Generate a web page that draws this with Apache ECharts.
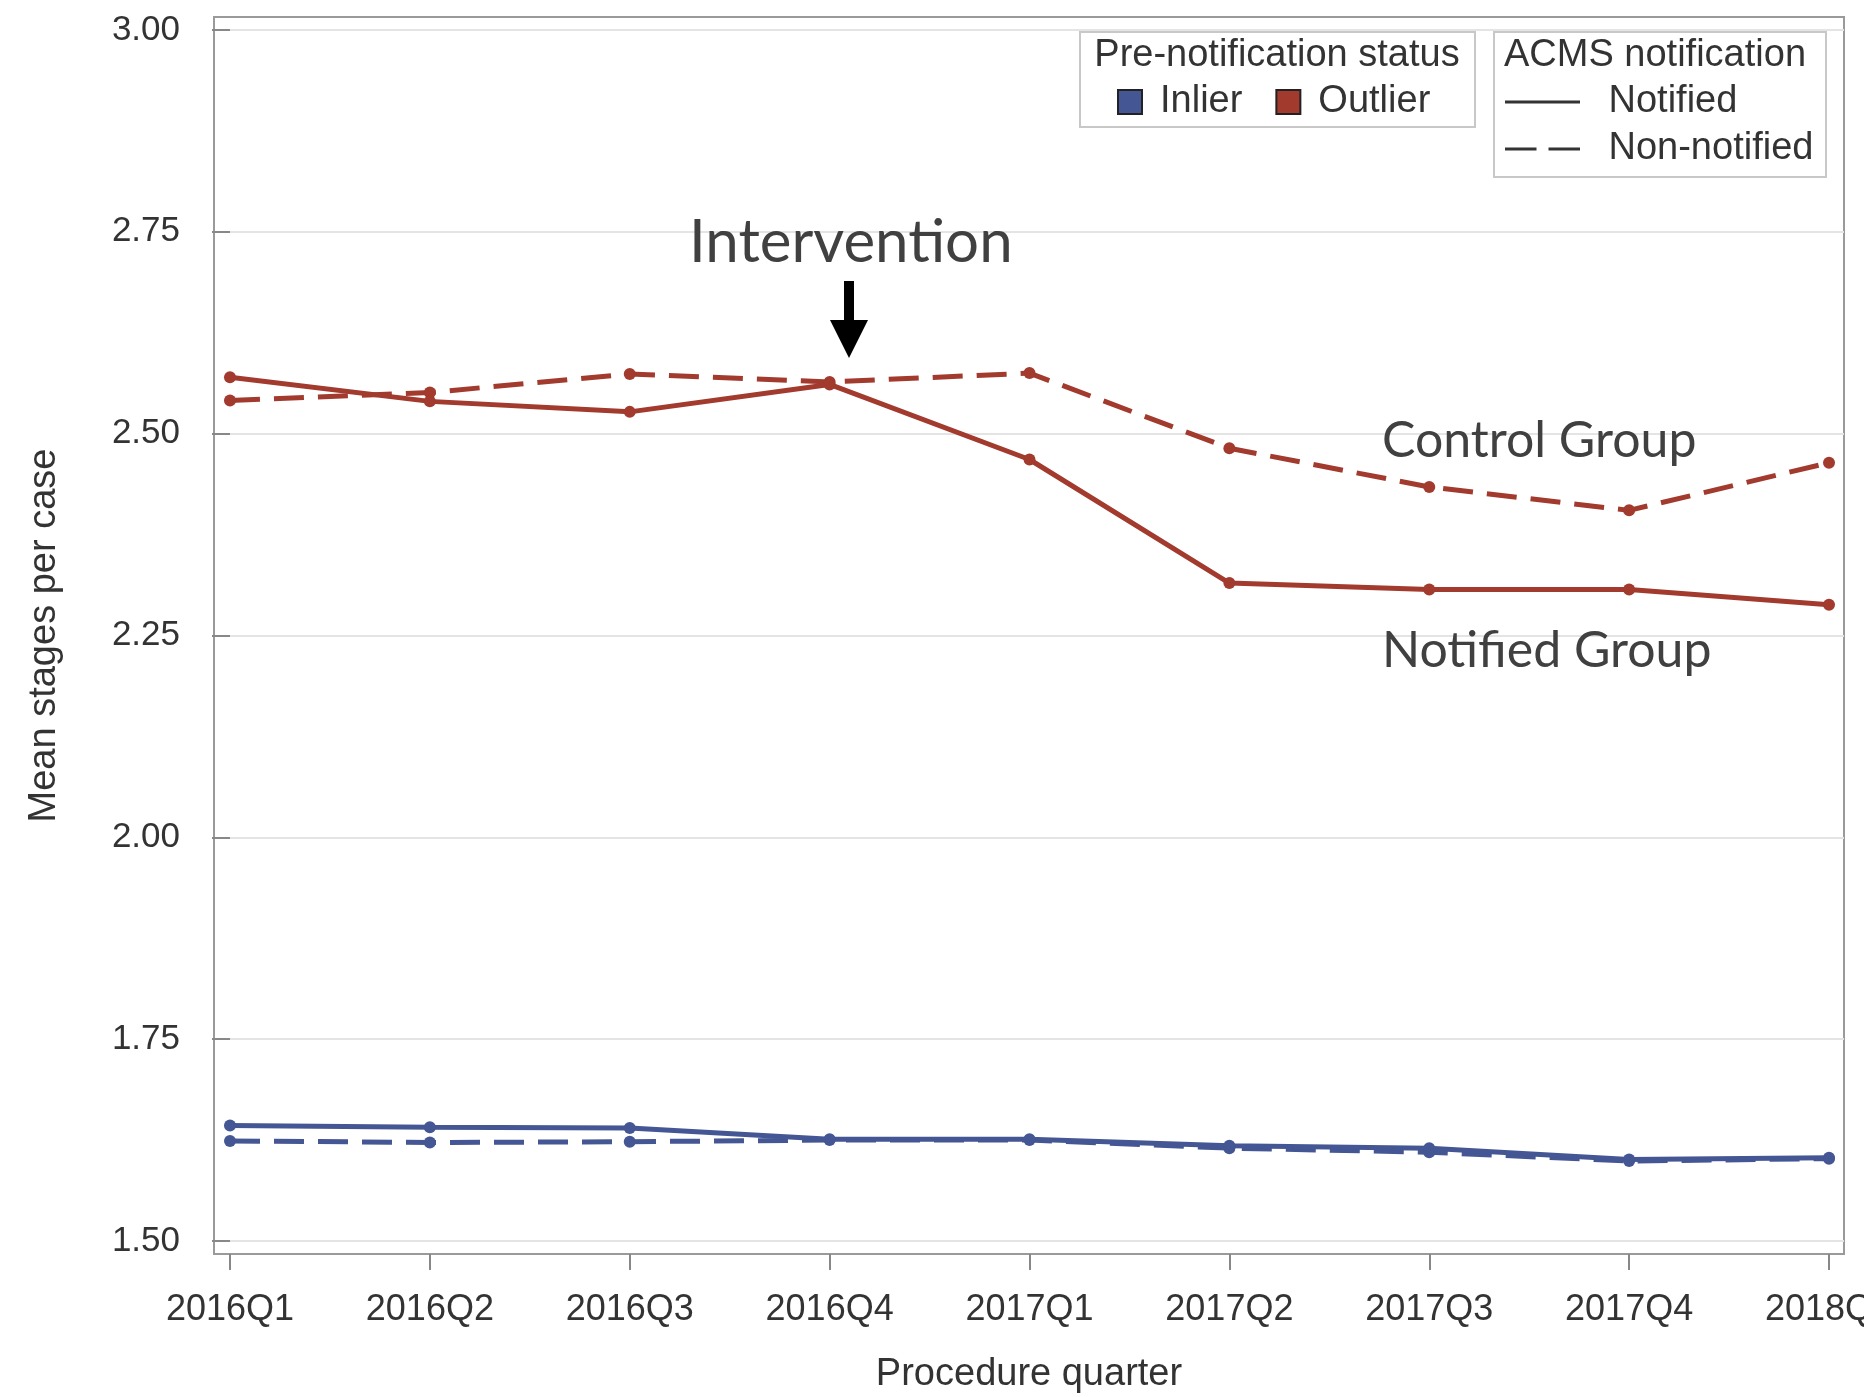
<!DOCTYPE html>
<html>
<head>
<meta charset="utf-8">
<script src="https://cdn.jsdelivr.net/npm/echarts@6/dist/echarts.min.js"></script>
<style>
html,body{margin:0;padding:0;background:#fff;}
#chart{width:1864px;height:1397px;}
</style>
</head>
<body>
<div id="chart"></div>
<script>
const quarters = ['2016Q1','2016Q2','2016Q3','2016Q4','2017Q1','2017Q2','2017Q3','2017Q4','2018Q1'];
const inlierNotified    = [1.643,1.641,1.640,1.626,1.626,1.618,1.615,1.601,1.603];
const inlierNonNotified = [1.624,1.622,1.623,1.625,1.625,1.615,1.610,1.599,1.602];
const outlierNotified    = [2.570,2.540,2.527,2.561,2.468,2.315,2.307,2.307,2.288];
const outlierNonNotified = [2.541,2.551,2.574,2.564,2.575,2.482,2.434,2.405,2.464];
const yTicks = [1.50,1.75,2.00,2.25,2.50,2.75,3.00];
const xTicks = quarters.map((q,i)=>i);

const BLUE = '#445694';
const RED = '#A23A2E';
const FONT = 'Liberation Sans, Arial, sans-serif';
const ANNOT = 'Lato, Open Sans, sans-serif';

function pts(arr){ return arr.map((v,i)=>[i,v]); }

function lineSeries(name, arr, color, dashed){
  return {
    name: name, type: 'line', data: pts(arr),
    symbol: 'circle', symbolSize: 12,
    itemStyle: {color: color},
    lineStyle: {color: color, width: 5, type: dashed ? [30,14] : 'solid'},
    z: dashed ? 3 : 4
  };
}
function dummy(name, color){
  return {name: name, type: 'line', data: [], itemStyle: {color: color}, lineStyle:{color: color}};
}

const chart = echarts.init(document.getElementById('chart'), null, {renderer:'canvas'});
chart.setOption({
  backgroundColor: '#fff',
  animation: false,
  grid: {left: 214, right: 20, top: 17, bottom: 143, show: true, borderColor: '#9a9a9a', borderWidth: 2,
    backgroundColor: 'transparent', containLabel: false, outerBoundsMode: 'none'},
  xAxis: {
    type: 'value', min: -0.08, max: 8.075,
    name: 'Procedure quarter', nameLocation: 'middle', nameGap: 102,
    nameTextStyle: {fontFamily: FONT, fontSize: 38, color: '#333'},
    axisLine: {show: false},
    axisTick: {show: true, length: 16, customValues: xTicks, lineStyle: {color: '#888', width: 2}},
    axisLabel: {customValues: xTicks, margin: 38, fontFamily: FONT, fontSize: 36, color: '#333',
      formatter: v => quarters[Math.round(v)] || ''},
    splitLine: {show: false}
  },
  yAxis: {
    type: 'value', min: 1.4839, max: 3.0161,
    name: 'Mean stages per case', nameLocation: 'middle', nameGap: 150, nameRotate: 90,
    nameTextStyle: {fontFamily: FONT, fontSize: 38, color: '#333'},
    axisLine: {show: false},
    axisTick: {show: true, length: 18, customValues: yTicks, lineStyle: {color: '#888', width: 2}},
    axisLabel: {customValues: yTicks, margin: 34, fontFamily: FONT, fontSize: 35, color: '#333',
      formatter: v => Number(v).toFixed(2)},
    splitLine: {show: true, lineStyle: {color: '#e4e4e4', width: 2}}
  },
  legend: [
    {
      data: ['Inlier','Outlier'], orient: 'horizontal', left: 1080, top: 32,
      padding: [51, 10, 6, 37], itemGap: 33, itemWidth: 24, itemHeight: 24, icon: 'rect',
      itemStyle: {borderColor: '#222', borderWidth: 2},
      textStyle: {fontFamily: FONT, fontSize: 38, color: '#333', padding: [0,0,0,13]},
      selectedMode: false, z: 10
    },
    {
      data: [
        {name: 'Notified', icon: 'path://M0,0H100V4H0Z'},
        {name: 'Non-notified', icon: 'path://M0,0H42V4H0Z M58,0H100V4H58Z'}
      ],
      orient: 'vertical', left: 1505, top: 83, padding: 0, itemGap: 9,
      itemWidth: 88, itemHeight: 3,
      textStyle: {fontFamily: FONT, fontSize: 38, color: '#333', padding: [0,0,0,17]},
      selectedMode: false, z: 10
    }
  ],
  graphic: [
    {type: 'rect', z: 5, shape: {x: 1080, y: 32, width: 395, height: 95}, style: {fill: '#fff', stroke: '#c8c8c8', lineWidth: 2}},
    {type: 'text', z: 6, x: 1277, y: 56, style: {text: 'Pre-notification status', font: '38px ' + FONT, fill: '#333', align: 'center', verticalAlign: 'middle'}},
    {type: 'rect', z: 5, shape: {x: 1494, y: 32, width: 332, height: 145}, style: {fill: '#fff', stroke: '#c8c8c8', lineWidth: 2}},
    {type: 'text', z: 6, x: 1504, y: 56, style: {text: 'ACMS notification', font: '38px ' + FONT, fill: '#333', align: 'left', verticalAlign: 'middle'}},
    {type: 'text', z: 6, x: 689, y: 243, style: {text: 'Intervention', font: '60px ' + ANNOT, fill: '#404040', align: 'left', verticalAlign: 'middle'}},
    {type: 'text', z: 6, x: 1382, y: 441, style: {text: 'Control Group', font: '50px ' + ANNOT, fill: '#404040', align: 'left', verticalAlign: 'middle'}},
    {type: 'text', z: 6, x: 1382, y: 651, style: {text: 'Notified Group', font: '50px ' + ANNOT, fill: '#404040', align: 'left', verticalAlign: 'middle'}},
    {type: 'polygon', z: 6, shape: {points: [[844,281],[854,281],[854,320],[868,320],[849,358],[830,320],[844,320]]}, style: {fill: '#000'}}
  ],
  series: [
    lineSeries('Inlier - Non-notified', inlierNonNotified, BLUE, true),
    lineSeries('Inlier - Notified', inlierNotified, BLUE, false),
    lineSeries('Outlier - Non-notified', outlierNonNotified, RED, true),
    lineSeries('Outlier - Notified', outlierNotified, RED, false),
    dummy('Inlier', BLUE),
    dummy('Outlier', RED),
    dummy('Notified', '#333'),
    dummy('Non-notified', '#333')
  ]
});
</script>
</body>
</html>
